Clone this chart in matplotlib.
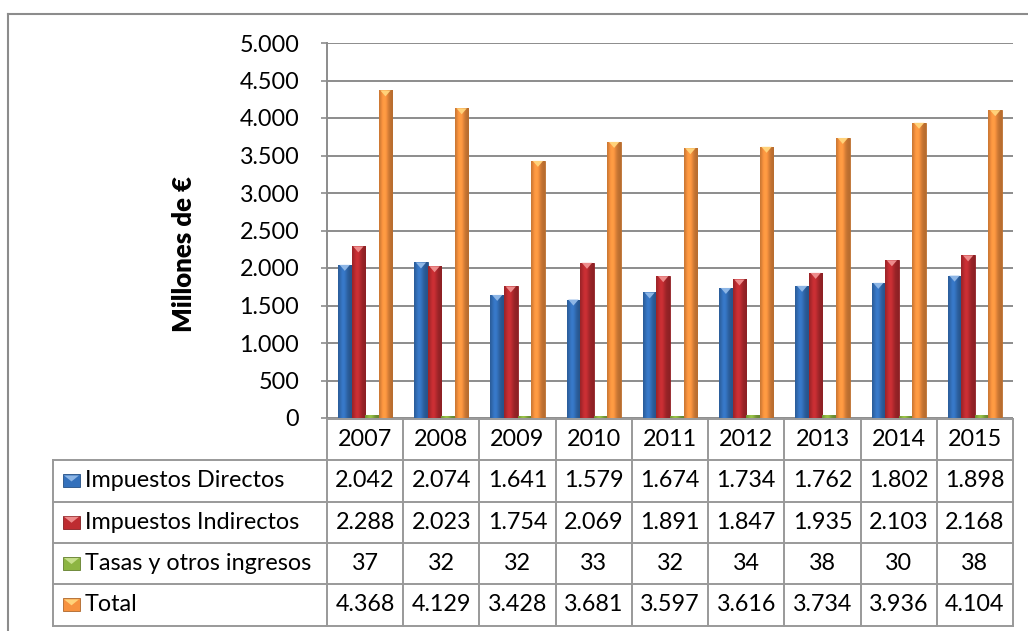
import numpy as np
import matplotlib
matplotlib.use("Agg")
import matplotlib.pyplot as plt
import matplotlib.colors as mcolors
from matplotlib.patches import Rectangle, Polygon
from matplotlib.lines import Line2D

# data (millones de euros)
years = ["2007", "2008", "2009", "2010", "2011", "2012", "2013", "2014", "2015"]
series_names = ["Impuestos Directos", "Impuestos Indirectos", "Tasas y otros ingresos", "Total"]
directos = [2042, 2074, 1641, 1579, 1674, 1734, 1762, 1802, 1898]
indirectos = [2288, 2023, 1754, 2069, 1891, 1847, 1935, 2103, 2168]
tasas = [37, 32, 32, 33, 32, 34, 38, 30, 38]
total = [4368, 4129, 3428, 3681, 3597, 3616, 3734, 3936, 4104]
y_ticks = [0, 500, 1000, 1500, 2000, 2500, 3000, 3500, 4000, 4500, 5000]

colors = ["#3471BC", "#BE2C31", "#8DB542", "#F7923F"]
light = ["#8DB6E6", "#EE8C8C", "#C7E08C", "#FFD27A"]

plt.rcParams['font.family'] = ['Lato', 'DejaVu Sans']
FS = 16.8

W, H = 1028, 631
fig = plt.figure(figsize=(W / 100, H / 100), dpi=100)

# layout in pixels
AX_L, AX_R, AX_T, AX_B = 327, 1013, 43, 418
ROW_H = 41.3
TAB_L = 53


def fx(x):
    return x / W


def fy(y):
    return 1 - y / H


ax = fig.add_axes([fx(AX_L), fy(AX_B), fx(AX_R) - fx(AX_L), fy(AX_T) - fy(AX_B)])

n = len(years)
x = np.arange(n)
bw = 0.178
data = [directos, indirectos, tasas, total]


def shade_bar(rect, color):
    x0, y0 = rect.get_x(), rect.get_y()
    w, h = rect.get_width(), rect.get_height()
    base = np.array(mcolors.to_rgb(color))
    t = np.linspace(0, 1, 64)
    prof = 0.74 + 0.34 * np.exp(-((t - 0.38) / 0.3) ** 2)
    img = np.clip(base[None, :] * prof[:, None], 0, 1)[None, :, :]
    im = ax.imshow(img, extent=(x0, x0 + w, y0, y0 + h), aspect='auto',
                   zorder=3.1, interpolation='bicubic')
    im.set_clip_path(rect)


tri_h = 6 * 5000 / (AX_B - AX_T)
for k, vals in enumerate(data):
    bars = ax.bar(x + (k - 1.5) * bw, vals, width=bw, color=colors[k],
                  edgecolor=np.array(mcolors.to_rgb(colors[k])) * 0.75,
                  linewidth=0.6, zorder=3)
    for b in bars:
        shade_bar(b, colors[k])
        top = b.get_y() + b.get_height()
        if b.get_height() > tri_h * 2:
            bx, bwid = b.get_x(), b.get_width()
            ax.add_patch(Polygon([(bx + bwid * 0.12, top), (bx + bwid * 0.88, top),
                                  (bx + bwid * 0.5, top - tri_h)],
                                 closed=True, facecolor=light[k], edgecolor='none',
                                 zorder=3.2))

ax.set_xlim(-0.5, n - 0.5)
ax.set_ylim(0, 5000)
ax.set_yticks(y_ticks)
ax.set_yticklabels([f"{v:,}".replace(",", ".") for v in y_ticks], fontsize=FS)
ax.set_xticks([])
ax.grid(axis='y', color='#8C8C8C', linewidth=1.4, zorder=0)
ax.tick_params(axis='y', length=4, width=1.2, color='#8C8C8C', pad=16)
for s in ["top", "right", "bottom"]:
    ax.spines[s].set_visible(False)
ax.spines["left"].set_color('#8C8C8C')
ax.spines["left"].set_linewidth(1.4)

fig.text(fx(184), fy(254), "Millones de €", rotation=90, ha='center', va='center',
         fontsize=18.5, fontweight='heavy')

# table below the chart
lc = '#999999'
lw = 1.4
col_w = (AX_R - AX_L) / n
col_edges = [AX_L + i * col_w for i in range(n + 1)]
row_edges = [AX_B + 1 + i * ROW_H for i in range(len(series_names) + 2)]


def hline(x0, x1, y):
    fig.add_artist(Line2D([fx(x0), fx(x1)], [fy(y), fy(y)], color=lc, linewidth=lw))


def vline(xp, y0, y1):
    fig.add_artist(Line2D([fx(xp), fx(xp)], [fy(y0), fy(y1)], color=lc, linewidth=lw))


hline(AX_L, AX_R, row_edges[0])
for r in range(1, len(row_edges)):
    hline(TAB_L, AX_R, row_edges[r])
for xp in col_edges:
    vline(xp, row_edges[0], row_edges[-1])
vline(TAB_L, row_edges[1], row_edges[-1])

for i, yr in enumerate(years):
    fig.text(fx(col_edges[i] + col_w / 2), fy(row_edges[0] + ROW_H / 2), yr,
             ha='center', va='center', fontsize=FS)

for k, name in enumerate(series_names):
    yc = row_edges[k + 1] + ROW_H / 2
    # legend key
    kx0, kx1 = 63, 80
    ky0, ky1 = yc - 6.5, yc + 6.5
    fig.add_artist(Rectangle((fx(kx0), fy(ky1)), fx(kx1) - fx(kx0), fy(ky0) - fy(ky1),
                             facecolor=colors[k],
                             edgecolor=np.array(mcolors.to_rgb(colors[k])) * 0.7,
                             linewidth=0.6))
    fig.add_artist(Polygon([(fx(kx0 + 1), fy(ky0 + 1)), (fx(kx1 - 1), fy(ky0 + 1)),
                            (fx((kx0 + kx1) / 2), fy(ky0 + 7))],
                           closed=True, facecolor=light[k], edgecolor='none'))
    fig.text(fx(85), fy(yc), name, ha='left', va='center', fontsize=FS)
    for i, v in enumerate(data[k]):
        fig.text(fx(col_edges[i] + col_w / 2), fy(yc), f"{v:,}".replace(",", "."),
                 ha='center', va='center', fontsize=FS)

# outer frame
fig.add_artist(Line2D([fx(8), 1], [fy(14), fy(14)], color='#8C8C8C', linewidth=1.5))
fig.add_artist(Line2D([fx(8), fx(8)], [fy(14), 0], color='#8C8C8C', linewidth=1.5))

fig.savefig("out.png", dpi=100)
